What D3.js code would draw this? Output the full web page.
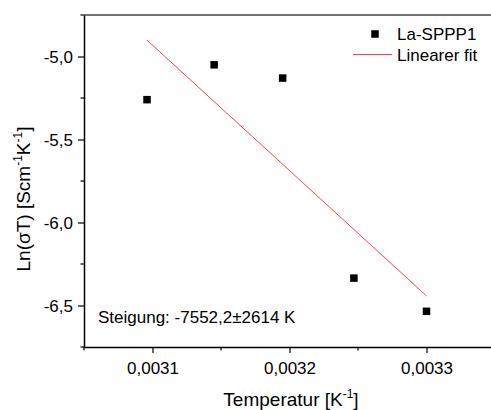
<!DOCTYPE html>
<html>
<head>
<meta charset="utf-8">
<script src="https://cdn.jsdelivr.net/npm/d3@7/dist/d3.min.js"></script>
<style>
  html, body { margin: 0; padding: 0; background: #fff; }
  svg { display: block; font-family: Arial, "Liberation Sans", sans-serif; }
</style>
</head>
<body>
<svg id="chart" width="491" height="410"></svg>
<script>
// Inverse temperature [1/K] and Ln(sigma*T) for La-SPPP1
const invTemp = [0.003096, 0.003145, 0.003195, 0.003247, 0.003300];
const lnSigmaT = [-5.26, -5.05, -5.13, -6.335, -6.535];

// Linear fit parameters
const fitSlope = -7552.2;
const fitSlopeErr = 2614;
const fitIntercept = 18.48;

// Axis ticks
const xMajorTicks = [0.0031, 0.0032, 0.0033];
const xMinorTicks = [0.00305, 0.00315, 0.00325, 0.00335];
const xTickLabels = ["0,0031", "0,0032", "0,0033"];
const yMajorTicks = [-5.0, -5.5, -6.0, -6.5];
const yMinorTicks = [-4.75, -5.25, -5.75, -6.25, -6.75];
const yTickLabels = ["-5,0", "-5,5", "-6,0", "-6,5"];

const svg = d3.select("#chart");
const plotLeft = 84, plotTop = 15, plotBottom = 347, plotRight = 495;

const x = d3.scaleLinear().domain([0.00305, 0.00335]).range([plotLeft, plotRight]);
const y = d3.scaleLinear().domain([-6.75, -4.75]).range([plotBottom, plotTop]);

const fontSize = 17;
const titleSize = 19;
const supSize = 12;

// top frame line
svg.append("line")
  .attr("x1", plotLeft).attr("x2", plotRight)
  .attr("y1", plotTop).attr("y2", plotTop)
  .attr("stroke", "#444").attr("stroke-width", 1.5);

// bottom axis
const xAxis = svg.append("g").attr("transform", `translate(0,${plotBottom})`);
xAxis.call(d3.axisBottom(x).tickValues(xMajorTicks).tickSize(6)
  .tickFormat((d, i) => xTickLabels[i]).tickSizeOuter(0));
xAxis.call(g => g.append("g").selectAll("line").data(xMinorTicks).join("line")
  .attr("x1", d => x(d)).attr("x2", d => x(d))
  .attr("y1", 0).attr("y2", 3.5).attr("stroke", "#000").attr("stroke-width", 1.2));

// left axis
const yAxis = svg.append("g").attr("transform", `translate(${plotLeft},0)`);
yAxis.call(d3.axisLeft(y).tickValues(yMajorTicks).tickSize(6)
  .tickFormat((d, i) => yTickLabels[i]).tickSizeOuter(0));
yAxis.call(g => g.append("g").selectAll("line").data(yMinorTicks).join("line")
  .attr("x1", 0).attr("x2", -3.5)
  .attr("y1", d => y(d)).attr("y2", d => y(d)).attr("stroke", "#000").attr("stroke-width", 1.2));

[xAxis, yAxis].forEach(g => {
  g.select(".domain").attr("stroke", "#000").attr("stroke-width", 1.5);
  g.selectAll(".tick line").attr("stroke", "#000").attr("stroke-width", 1.2);
  g.selectAll(".tick text").attr("font-size", fontSize).attr("fill", "#000")
    .attr("font-family", "Arial, 'Liberation Sans', sans-serif");
});
xAxis.selectAll(".tick text").attr("dy", null).attr("y", 27);
yAxis.selectAll(".tick text").attr("x", -11).attr("dy", "0.36em");

// fit line across the data range
const [xmin, xmax] = d3.extent(invTemp);
svg.append("line")
  .attr("x1", x(xmin)).attr("y1", y(fitIntercept + fitSlope * xmin))
  .attr("x2", x(xmax)).attr("y2", y(fitIntercept + fitSlope * xmax))
  .attr("stroke", "#f44").attr("stroke-width", 1);

// data points
const sq = 7.5;
svg.append("g").selectAll("rect").data(invTemp).join("rect")
  .attr("x", d => x(d) - sq / 2)
  .attr("y", (d, i) => y(lnSigmaT[i]) - sq / 2)
  .attr("width", sq).attr("height", sq)
  .attr("fill", "#000");

// legend
const lg = svg.append("g");
lg.append("rect").attr("x", 375 - sq / 2).attr("y", 34 - sq / 2)
  .attr("width", sq).attr("height", sq).attr("fill", "#000");
lg.append("text").attr("x", 397).attr("y", 40).attr("font-size", fontSize).text("La-SPPP1");
lg.append("line").attr("x1", 353).attr("x2", 392).attr("y1", 54.5).attr("y2", 54.5)
  .attr("stroke", "#f44").attr("stroke-width", 1);
lg.append("text").attr("x", 397).attr("y", 61).attr("font-size", fontSize).text("Linearer fit");

// slope annotation
const fmt = v => String(v).replace(".", ",");
const ann = svg.append("text").attr("x", 98).attr("y", 323).attr("font-size", fontSize);
ann.append("tspan").text(`Steigung: ${fmt(fitSlope)}`);
ann.append("tspan").text("±");
ann.append("tspan").text(`${fitSlopeErr} K`);

// axis titles
const xt = svg.append("text").attr("x", 291).attr("y", 406)
  .attr("text-anchor", "middle").attr("font-size", titleSize);
xt.append("tspan").text("Temperatur [K");
xt.append("tspan").attr("font-size", supSize).attr("dy", -8).text("-1");
xt.append("tspan").attr("dy", 8).text("]");

const yt = svg.append("text").attr("transform", "translate(30,199) rotate(-90)")
  .attr("text-anchor", "middle").attr("font-size", titleSize);
yt.append("tspan").text("Ln(σT) [Scm");
yt.append("tspan").attr("font-size", supSize).attr("dy", -8).text("-1");
yt.append("tspan").attr("dy", 8).text("K");
yt.append("tspan").attr("font-size", supSize).attr("dy", -8).text("-1");
yt.append("tspan").attr("dy", 8).text("]");
</script>
</body>
</html>
